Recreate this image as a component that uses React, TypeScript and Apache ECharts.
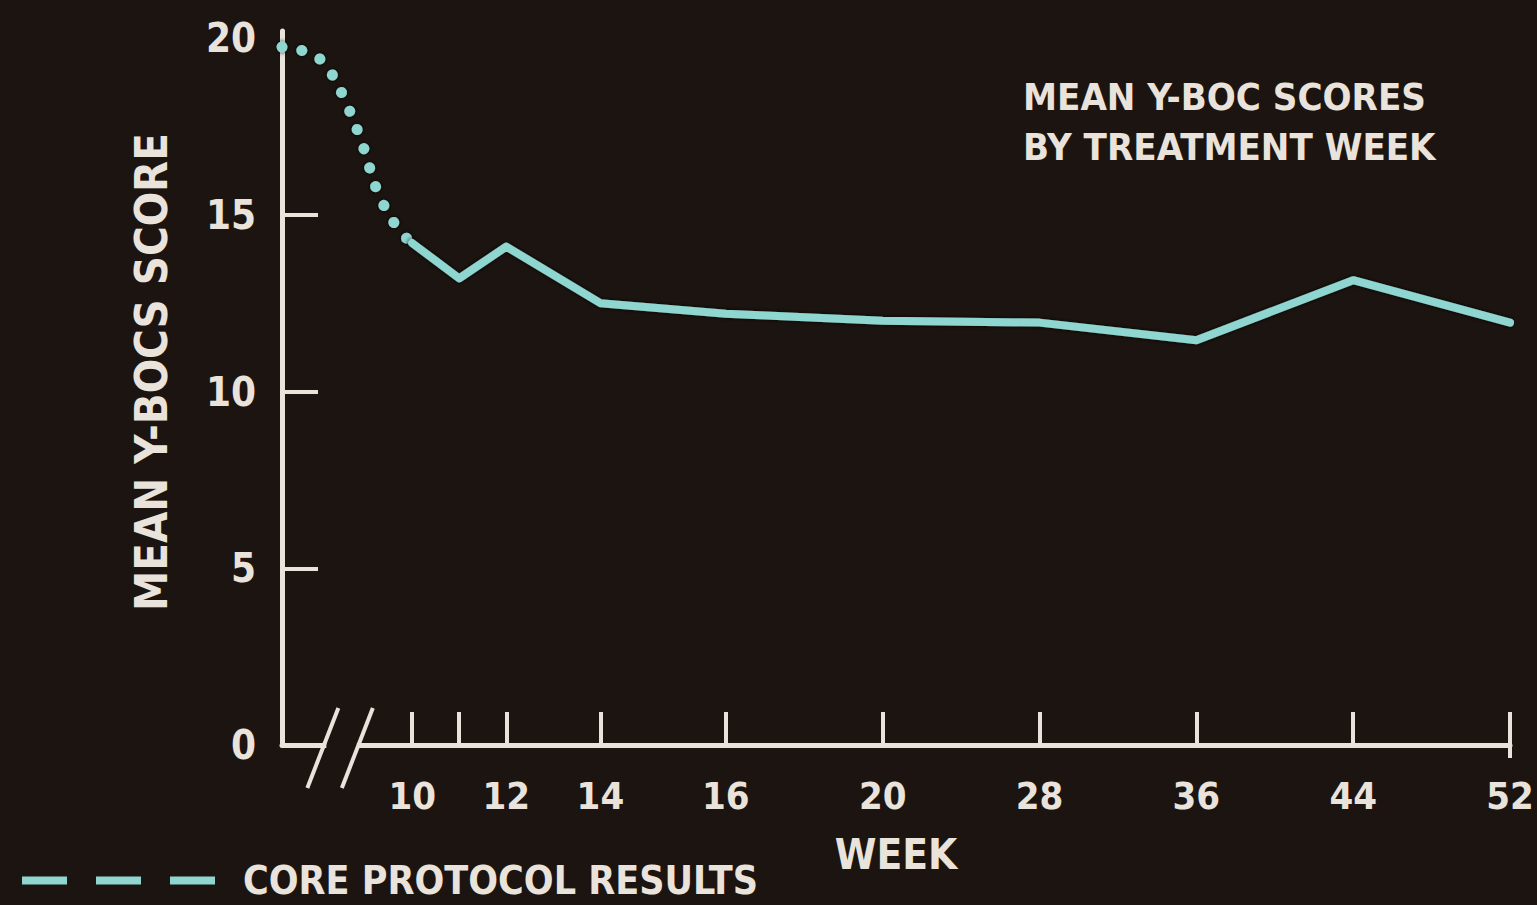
import React, { useEffect, useRef } from "react";
import * as echarts from "echarts";

// ---- data ----
const weeks = [10, 11, 12, 14, 16, 20, 28, 36, 44, 52];
// position of each week on the (non-linear) horizontal scale, in axis units
const weekAxisPos = [0, 3, 6, 12, 20, 30, 40, 50, 60, 70];
const meanScores = [14.2, 13.2, 14.1, 12.5, 12.2, 12.0, 11.95, 11.45, 13.15, 11.95];
const labeledWeeks = [10, 12, 14, 16, 20, 28, 36, 44, 52];
// segment before the axis break (dotted), in axis units
const preAxisPos = [-8.3, -6.4, -5.3, -4.1, -3.1, -2.2, -0.9, 0];
const preScores = [19.75, 19.55, 19.1, 18.05, 16.9, 15.65, 14.6, 14.2];
const yTickValues = [5, 10, 15];
const yLabelValues = [0, 5, 10, 15, 20];
const X_MIN = -8.3;
const X_MAX = 70;
const Y_MAX = 20.2;
const breakRange = [-5.6, -3.4];

const SERIES_NAME = "CORE PROTOCOL RESULTS";
const BG = "#1c1410";
const FG = "#e9e3dc";
const CYAN = "#8fd6d1";
const FONT = '"Liberation Sans Narrow", "DejaVu Sans Condensed", "Roboto Condensed", Arial, sans-serif';

export default function App() {
  const ref = useRef<HTMLDivElement>(null);

  useEffect(() => {
    if (!ref.current) return;
    const chart = echarts.init(ref.current, null, { renderer: "svg" });
    const mainData = weeks.map((w, i) => [weekAxisPos[i], meanScores[i]]);
    const preData = preAxisPos.map((x, i) => [x, preScores[i]]);
    const labelPos = labeledWeeks.map((w) => weekAxisPos[weeks.indexOf(w)]);

    chart.setOption({
      animation: false,
      backgroundColor: BG,
      title: {
        text: "MEAN Y-BOC SCORES\nBY TREATMENT WEEK",
        left: 1018,
        top: 67,
        textStyle: {
          color: FG,
          fontFamily: FONT,
          fontWeight: "bold",
          fontSize: 38,
          lineHeight: 50,
        },
      },
      legend: {
        data: [SERIES_NAME],
        left: 17,
        top: 856,
        icon: "path://M0,0H45V8H0Z M74,0H119V8H74Z M148,0H193V8H148Z",
        itemWidth: 193,
        itemHeight: 8,
        textStyle: {
          color: FG,
          fontFamily: FONT,
          fontWeight: "bold",
          fontSize: 39,
          padding: [0, 0, 0, 23],
        },
      },
      grid: { left: 282, right: 27, top: 31, bottom: 160, containLabel: false },
      xAxis: {
        type: "value",
        min: X_MIN,
        max: X_MAX,
        name: "WEEK",
        nameLocation: "middle",
        nameGap: 88,
        nameTextStyle: { color: FG, fontFamily: FONT, fontWeight: "bold", fontSize: 42 },
        axisLine: { show: true, lineStyle: { color: FG, width: 5 } },
        splitLine: { show: false },
        axisTick: {
          show: true,
          inside: true,
          length: 33,
          customValues: weekAxisPos,
          lineStyle: { color: FG, width: 4 },
        },
        axisLabel: {
          customValues: labelPos,
          margin: 32,
          color: FG,
          fontFamily: FONT,
          fontWeight: "bold",
          fontSize: 38,
          formatter: (v: number) => {
            const i = weekAxisPos.indexOf(v);
            return i >= 0 ? String(weeks[i]) : "";
          },
        },
      },
      yAxis: {
        type: "value",
        min: 0,
        max: Y_MAX,
        interval: 5,
        name: "MEAN Y-BOCS SCORE",
        nameLocation: "middle",
        nameGap: 108,
        nameRotate: 90,
        nameTextStyle: {
          color: FG,
          fontFamily: FONT,
          fontWeight: "bold",
          fontSize: 45,
          padding: [0, 0, 0, 32],
        },
        axisLine: { show: true, onZero: false, lineStyle: { color: FG, width: 5 } },
        splitLine: { show: false },
        axisTick: {
          show: true,
          inside: true,
          length: 36,
          customValues: yTickValues,
          lineStyle: { color: FG, width: 4 },
        },
        axisLabel: {
          customValues: yLabelValues,
          margin: 26,
          color: FG,
          fontFamily: FONT,
          fontWeight: "bold",
          fontSize: 40,
        },
      },
      series: [
        {
          name: "pre",
          type: "line",
          data: preData,
          smooth: 0.4,
          showSymbol: false,
          symbol: "none",
          lineStyle: {
            color: CYAN,
            width: 11,
            type: [0.1, 20],
            cap: "round",
            shadowColor: "rgba(0,0,0,0.9)",
            shadowBlur: 4,
          },
          silent: true,
          z: 3,
        },
        {
          name: SERIES_NAME,
          type: "line",
          data: mainData,
          showSymbol: false,
          symbol: "none",
          color: CYAN,
          lineStyle: {
            color: CYAN,
            width: 8,
            join: "round",
            cap: "round",
            shadowColor: "rgba(0,0,0,0.9)",
            shadowBlur: 4,
          },
          z: 3,
        },
      ],
    });

    // axis break and end tick, placed through the axis scales
    const px = (x: number, y: number) =>
      chart.convertToPixel({ gridIndex: 0 }, [x, y]) as number[];
    const b0 = px(breakRange[0], 0);
    const b1 = px(breakRange[1], 0);
    const end = px(X_MAX, 0);
    const slash = (cx: number, cy: number) => ({
      type: "line",
      shape: { x1: cx + 14, y1: cy - 37, x2: cx - 17, y2: cy + 43 },
      style: { stroke: FG, lineWidth: 4 },
      z: 10,
    });
    chart.setOption({
      graphic: [
        {
          type: "rect",
          shape: { x: b0[0] + 2, y: b0[1] - 6, width: b1[0] - b0[0] - 4, height: 12 },
          style: { fill: BG },
          z: 9,
        },
        slash(b0[0], b0[1]),
        slash(b1[0], b1[1]),
        {
          type: "line",
          shape: { x1: end[0], y1: end[1] - 27, x2: end[0], y2: end[1] + 13 },
          style: { stroke: FG, lineWidth: 4 },
          z: 10,
        },
      ],
    });

    return () => chart.dispose();
  }, []);

  return (
    <div
      ref={ref}
      style={{ position: "fixed", left: 0, top: 0, width: 1537, height: 905 }}
    />
  );
}
